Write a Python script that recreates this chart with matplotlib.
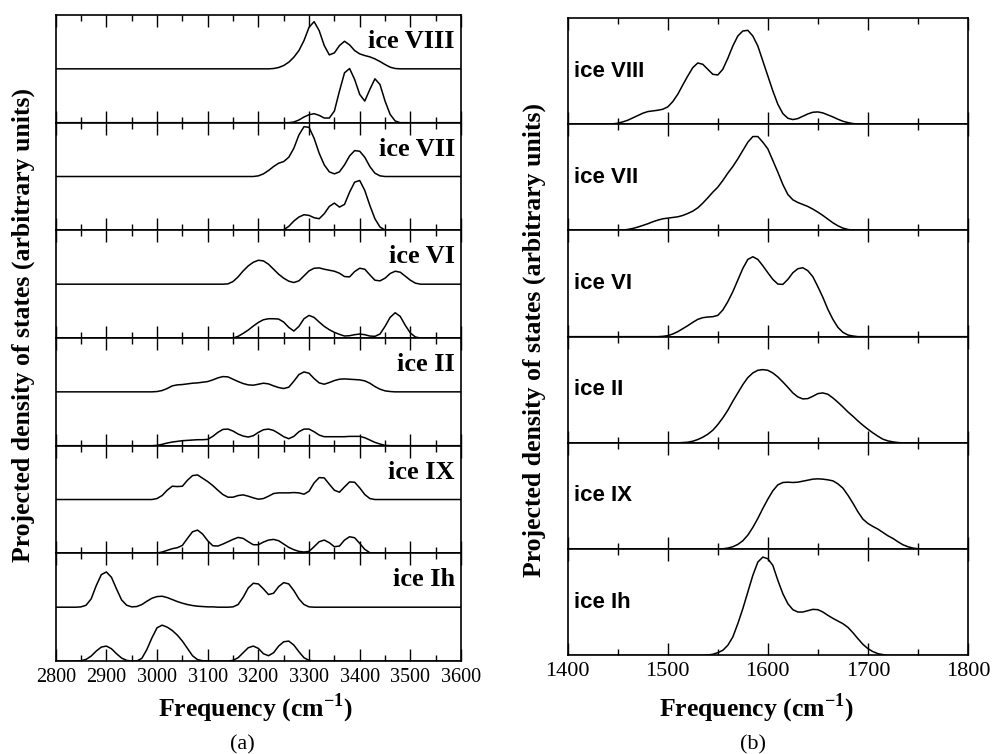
import numpy as np
import matplotlib
matplotlib.use('Agg')
import matplotlib.pyplot as plt
from matplotlib.ticker import MultipleLocator

plt.rcParams['font.family'] = 'Liberation Serif'
plt.rcParams['mathtext.fontset'] = 'custom'
plt.rcParams['mathtext.rm'] = 'Liberation Serif'
plt.rcParams['mathtext.bf'] = 'Liberation Serif:bold'

# ---- panel (a): O-H stretch region, two curves per phase, step 10 cm-1 ----
left_labels = ['ice VIII', 'ice VII', 'ice VI', 'ice II', 'ice IX', 'ice Ih']

viii_up_start, viii_up = 3220, [0, 1, 4, 10, 20, 35, 55, 85, 125, 142, 115, 70, 42, 48, 70, 83, 72, 55, 45, 40,
                                36, 30, 22, 13, 5, 1, 0]
viii_lo_start, viii_lo = 3260, [0, 2, 8, 17, 24, 27, 22, 14, 14, 35, 95, 150, 163, 130, 85, 65, 100, 132, 115, 65,
                                25, 5, 0]
vii_up_start, vii_up = 3190, [0, 2, 8, 18, 30, 40, 45, 58, 85, 125, 150, 148, 115, 70, 35, 14, 8, 14, 35, 62,
                              78, 76, 58, 30, 10, 2, 0]
vii_lo_start, vii_lo = 3240, [0, 2, 12, 28, 40, 47, 45, 38, 35, 50, 72, 82, 70, 78, 115, 145, 150, 120, 75, 35,
                              10, 1, 0]
vi_up_start, vi_up = 3130, [0, 1, 8, 22, 40, 55, 66, 72, 70, 60, 45, 30, 18, 9, 5, 10, 25, 40, 48, 49,
                            45, 42, 39, 33, 23, 22, 38, 48, 45, 28, 12, 10, 18, 32, 39, 36, 24, 12, 3, 0]
vi_lo_start, vi_lo = 3150, [0, 5, 14, 24, 36, 47, 55, 58, 58, 57, 48, 32, 21, 35, 58, 68, 62, 48, 35, 25,
                            17, 11, 6, 7, 10, 12, 10, 6, 5, 12, 35, 62, 76, 65, 38, 15, 3, 0]
ii_up_start, ii_up = 2990, [0, 1, 4, 10, 18, 21, 22, 24, 26, 27, 29, 31, 36, 42, 46, 45, 38, 31, 25, 21,
                            20, 23, 26, 24, 18, 13, 10, 14, 32, 52, 60, 56, 40, 27, 23, 28, 34, 38, 39, 38,
                            37, 36, 33, 26, 16, 8, 3, 1, 0]
ii_lo_start, ii_lo = 2990, [0, 1, 4, 8, 11, 13, 15, 16, 17, 18, 18, 19, 28, 40, 49, 50, 44, 35, 29, 26,
                            30, 40, 48, 50, 46, 37, 27, 21, 28, 42, 50, 50, 42, 32, 27, 27, 27, 27, 27, 28,
                            28, 28, 24, 17, 10, 5, 1, 0]
ix_up_start, ix_up = 2990, [0, 3, 12, 28, 40, 39, 40, 58, 72, 74, 64, 54, 42, 28, 15, 7, 7, 12, 14, 10,
                            5, 1, 3, 10, 18, 20, 20, 20, 21, 20, 16, 25, 50, 66, 65, 46, 28, 22, 38, 53,
                            52, 35, 15, 3, 0]
ix_lo_start, ix_lo = 2990, [0, 1, 4, 9, 14, 17, 24, 45, 65, 70, 58, 38, 23, 22, 28, 35, 42, 48, 45, 35,
                            26, 26, 34, 40, 42, 38, 28, 18, 11, 6, 4, 6, 20, 35, 40, 32, 20, 22, 40, 50,
                            47, 30, 12, 2, 0]
ih_up_start, ih_up = 2840, [0, 1, 6, 25, 65, 98, 106, 90, 55, 22, 6, 1, 2, 8, 18, 27, 32, 33, 29, 23,
                            17, 12, 8, 5, 3, 2, 1, 1, 0, 0, 0, 1, 8, 30, 58, 72, 70, 55, 38, 42,
                            62, 74, 70, 50, 25, 8, 1, 0]
ih_lo_start, ih_lo = 2840, [0, 1, 5, 15, 30, 42, 45, 37, 22, 9, 2, 0, 0, 8, 35, 70, 100, 108, 102, 92,
                            78, 60, 38, 16, 4, 1, 0, 0, 0, 0, 0, 2, 10, 25, 40, 45, 38, 22, 16, 25,
                            45, 58, 60, 48, 28, 10, 2, 0]

# ---- panel (b): H-O-H bend region, one curve per phase, step 5 cm-1 ----
right_labels = ['ice VIII', 'ice VII', 'ice VI', 'ice II', 'ice IX', 'ice Ih']

b_viii_start, b_viii = 1440, [0, 1, 3, 7, 12, 19, 26, 33, 38, 40, 42, 45, 52, 68, 90, 118, 145, 170, 184, 180,
                              165, 150, 148, 165, 198, 235, 265, 280, 282, 265, 235, 190, 145, 100, 60, 32, 18, 14,
                              17, 24, 31, 36, 37, 34, 28, 22, 15, 9, 5, 2, 1, 0, 0]
b_vii_start, b_vii = 1450, [0, 1, 3, 6, 10, 15, 20, 26, 31, 35, 37, 39, 41, 45, 51, 58, 68, 82, 98, 115,
                            130, 150, 172, 192, 215, 240, 265, 282, 282, 265, 245, 210, 175, 138, 108, 92, 84, 78,
                            72, 64, 55, 45, 34, 23, 14, 7, 3, 1, 0]
b_vi_start, b_vi = 1490, [0, 1, 3, 8, 15, 24, 33, 43, 52, 57, 59, 60, 64, 80, 105, 135, 170, 205, 232, 240,
                          232, 213, 192, 172, 158, 157, 172, 192, 204, 207, 198, 180, 150, 118, 82, 52, 28, 13,
                          5, 2, 0]
b_ii_start, b_ii = 1510, [0, 1, 2, 5, 10, 17, 26, 38, 55, 75, 98, 125, 150, 175, 196, 210, 218, 220, 218, 210,
                          198, 183, 167, 150, 138, 132, 133, 140, 148, 150, 146, 135, 122, 108, 93, 80, 66, 53,
                          41, 30, 20, 11, 6, 3, 1, 0]
b_ix_start, b_ix = 1550, [0, 1, 3, 7, 14, 25, 42, 65, 92, 122, 150, 175, 193, 200, 201, 200, 201, 204, 207, 210,
                          211, 210, 208, 205, 196, 183, 162, 138, 112, 90, 77, 68, 60, 50, 40, 32, 22, 13,
                          7, 3, 1, 0]
b_ih_start, b_ih = 1535, [0, 1, 3, 8, 15, 30, 55, 95, 140, 190, 240, 280, 295, 290, 270, 225, 185, 155, 137, 130,
                          130, 134, 138, 137, 130, 120, 111, 103, 95, 84, 68, 50, 33, 20, 11, 5, 2, 0]

left_pairs = [((viii_up_start, viii_up), (viii_lo_start, viii_lo)),
              ((vii_up_start, vii_up), (vii_lo_start, vii_lo)),
              ((vi_up_start, vi_up), (vi_lo_start, vi_lo)),
              ((ii_up_start, ii_up), (ii_lo_start, ii_lo)),
              ((ix_up_start, ix_up), (ix_lo_start, ix_lo)),
              ((ih_up_start, ih_up), (ih_lo_start, ih_lo))]
right_curves = [(b_viii_start, b_viii), (b_vii_start, b_vii), (b_vi_start, b_vi),
                (b_ii_start, b_ii), (b_ix_start, b_ix), (b_ih_start, b_ih)]


def full_curve(start, vals, lo, hi, step):
    # pad a curve with its flat zero baseline over the whole axis range
    x = np.arange(lo, hi + step, step)
    y = np.zeros(len(x))
    i0 = int(round((start - lo) / step))
    y[i0:i0 + len(vals)] = vals
    return x, y


def style_axis(ax, xmin, xmax, labelsize, show_labels):
    ax.set_xlim(xmin, xmax)
    ax.set_yticks([])
    ax.xaxis.set_major_locator(MultipleLocator(100))
    ax.xaxis.set_minor_locator(MultipleLocator(50))
    ax.tick_params(which='both', direction='in', top=True, bottom=True, width=1.0,
                   labelbottom=show_labels, labelsize=labelsize, pad=5)
    ax.tick_params(which='major', length=8.5)
    ax.tick_params(which='minor', length=4.5)
    for s in ax.spines.values():
        s.set_linewidth(1.2)


fig = plt.figure(figsize=(9.93, 7.54), dpi=100)

# left stack
l_left, l_width = 0.0561, 0.4082
l_bot, l_top = 0.1233, 0.9801
l_h = (l_top - l_bot) / 6
for i in range(6):
    ax = fig.add_axes([l_left, l_top - (i + 1) * l_h, l_width, l_h])
    (us, uv), (ls, lv) = left_pairs[i]
    x, y = full_curve(us, uv, 2800, 3600, 10)
    ax.plot(x, y + 162, color='black', lw=1.1)
    x, y = full_curve(ls, lv, 2800, 3600, 10)
    ax.plot(x, y, color='black', lw=1.1)
    ax.set_ylim(0, 324)
    style_axis(ax, 2800, 3600, 14.5, i == 5)
    ax.text(0.985, 0.755, left_labels[i], transform=ax.transAxes, ha='right', va='center',
            fontsize=19, fontweight='bold')

# right stack
r_left, r_width = 0.5717, 0.4031
r_bot, r_top = 0.1309, 0.9761
r_h = (r_top - r_bot) / 6
for i in range(6):
    ax = fig.add_axes([r_left, r_top - (i + 1) * r_h, r_width, r_h])
    s, v = right_curves[i]
    x, y = full_curve(s, v, 1400, 1800, 5)
    ax.plot(x, y, color='black', lw=1.1)
    ax.set_ylim(0, 319)
    style_axis(ax, 1400, 1800, 16, i == 5)
    ax.text(0.015, 0.5, right_labels[i], transform=ax.transAxes, ha='left', va='center',
            fontsize=16, fontweight='bold', family='Liberation Sans')

ylab = 'Projected density of states (arbitrary units)'
xlab = r'Frequency (cm$^{\mathbf{-1}}$)'
fig.text(23 / 993, 1 - 325 / 754, ylab, rotation=90, ha='center', va='center', fontsize=18.5, fontweight='bold')
fig.text(534 / 993, 1 - 340 / 754, ylab, rotation=90, ha='center', va='center', fontsize=18.5, fontweight='bold')
fig.text(255 / 993, 1 - 708 / 754, xlab, ha='center', va='center', fontsize=18.5, fontweight='bold')
fig.text(756 / 993, 1 - 708 / 754, xlab, ha='center', va='center', fontsize=18.5, fontweight='bold')
fig.text(242 / 993, 1 - 745 / 754, '(a)', ha='center', va='center', fontsize=16)
fig.text(753 / 993, 1 - 745 / 754, '(b)', ha='center', va='center', fontsize=16)

fig.savefig('out.png', dpi=100)
